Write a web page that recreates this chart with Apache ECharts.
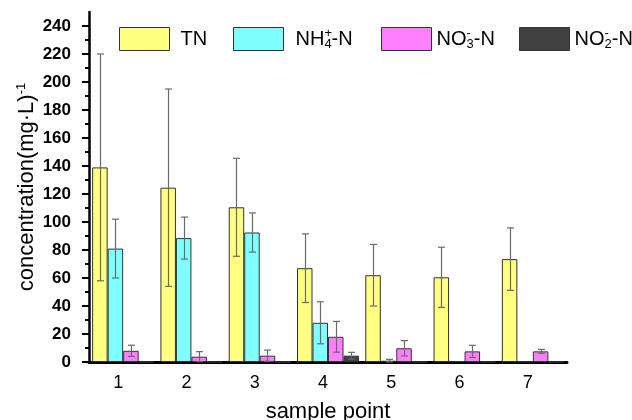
<!DOCTYPE html>
<html>
<head>
<meta charset="utf-8">
<script src="https://cdn.jsdelivr.net/npm/echarts@6/dist/echarts.min.js"></script>
<style>
html, body { margin: 0; padding: 0; background: #fff; }
#chart { width: 632px; height: 420px; }
</style>
</head>
<body>
<div id="chart"></div>
<script>
// sample points on the x axis
const samplePoints = ['1', '2', '3', '4', '5', '6', '7']
const yTicks = [0, 20, 40, 60, 80, 100, 120, 140, 160, 180, 200, 220, 240]

// mean concentration (mg/L) and error (sd) per sample point
const tnMean = [139, 124.5, 110.5, 67, 62, 60.5, 73.5]
const tnErr = [81, 70.5, 35, 24.5, 22, 21.5, 22.3]
const nh4Mean = [81, 88.5, 92.5, 28, 0.9, 0.5, 0.3]
const nh4Err = [21, 15, 14, 15, 1, 0, 0]
const no3Mean = [8, 3.8, 4.5, 18, 9.8, 7.6, 7.6]
const no3Err = [4, 3.6, 4, 11, 5.5, 4.3, 1.4]
const no2Mean = [0, 0, 0, 4.5, 0, 0, 0]
const no2Err = [0, 0, 0, 2.4, 0, 0, 0]

const FONT = 'Liberation Sans'
const BAR_W = 15.5

const seriesList = [
    { name: 'TN', mean: tnMean, err: tnErr, color: '#ffff80' },
    { name: 'NH4', mean: nh4Mean, err: nh4Err, color: '#80ffff' },
    { name: 'NO3', mean: no3Mean, err: no3Err, color: '#ff80ff' },
    { name: 'NO2', mean: no2Mean, err: no2Err, color: '#404040' }
]

// legend labels with sub/superscripts
const legendLabels = {
    TN: '{n|TN}',
    NH4: '{n|NH}{sup|+}{sub|4}{n|-N}',
    NO3: '{n|NO}{sup|-}{sub|3}{n|-N}',
    NO2: '{n|NO}{sup|-}{sub|2}{n|-N}'
}
const legendLeft = { TN: 119, NH4: 233, NO3: 381, NO2: 519 }
const legendTextPad = { TN: 6, NH4: 7, NO3: 0, NO2: 0 }

const richText = {
    n: { fontSize: 20, fontFamily: FONT, color: '#000', lineHeight: 24 },
    sup: { fontSize: 13, fontFamily: FONT, color: '#000', lineHeight: 8, verticalAlign: 'top', width: 0, align: 'left' },
    sub: { fontSize: 13, fontFamily: FONT, color: '#000', lineHeight: 8, verticalAlign: 'bottom' }
}

const chart = echarts.init(document.getElementById('chart'))

const barSeries = seriesList.map(s => ({
    name: s.name,
    type: 'bar',
    data: s.mean,
    barWidth: BAR_W,
    barGap: '0%',
    itemStyle: { color: s.color, borderColor: '#333', borderWidth: 1 },
    animation: false
}))

const errorSeries = seriesList.map((s, i) => ({
    type: 'custom',
    z: 5,
    silent: true,
    animation: false,
    data: s.mean.map((m, k) => [k, Math.max(0, m - s.err[k]), m + s.err[k], s.err[k]]),
    renderItem: (params, api) => {
        if (api.value(3) <= 0) return null
        const cat = api.value(0)
        const x = Math.round(api.coord([cat, 0])[0] + (i - 1.5) * BAR_W) + 0.5
        const yLo = api.coord([cat, api.value(1)])[1]
        const yHi = api.coord([cat, api.value(2)])[1]
        const style = { stroke: '#6a6a6a', lineWidth: 1.2 }
        return {
            type: 'group',
            children: [
                { type: 'line', shape: { x1: x, y1: yLo, x2: x, y2: yHi }, style },
                { type: 'line', shape: { x1: x - 3.5, y1: yHi, x2: x + 3.5, y2: yHi }, style },
                { type: 'line', shape: { x1: x - 3.5, y1: yLo, x2: x + 3.5, y2: yLo }, style }
            ]
        }
    }
}))

const legends = seriesList.map(s => ({
    data: [s.name],
    left: legendLeft[s.name],
    top: 27,
    padding: 0,
    itemWidth: 50,
    itemHeight: 23,
    icon: 'rect',
    itemStyle: { borderColor: '#333', borderWidth: 1 },
    formatter: name => legendLabels[name],
    textStyle: { padding: [0, 0, 0, legendTextPad[s.name]], rich: richText }
}))

chart.setOption({
    backgroundColor: '#fff',
    animation: false,
    legend: legends,
    grid: { left: 89, right: 65, top: 12, bottom: 58, outerBoundsMode: 'none' },
    xAxis: {
        type: 'category',
        data: samplePoints,
        name: 'sample point',
        nameLocation: 'middle',
        nameGap: 39,
        nameMoveOverlap: false,
        nameTextStyle: { fontSize: 22, fontFamily: FONT, color: '#000' },
        axisLine: { lineStyle: { color: '#000', width: 3 } },
        axisTick: { show: false },
        axisLabel: { fontSize: 18, fontFamily: FONT, color: '#000', margin: 12, padding: [0, 10, 0, 0] }
    },
    yAxis: {
        type: 'value',
        min: 0,
        max: 250,
        interval: 20,
        name: '{n|concentration(mg·L)}{s|-1}',
        nameLocation: 'middle',
        nameGap: 50,
        nameMoveOverlap: false,
        nameTextStyle: {
            rich: {
                n: { fontSize: 22, fontFamily: FONT, color: '#000', lineHeight: 24 },
                s: { fontSize: 13, fontFamily: FONT, color: '#000', lineHeight: 10, verticalAlign: 'top' }
            }
        },
        splitLine: { show: false },
        axisLine: { show: true, lineStyle: { color: '#000', width: 2.5 } },
        axisTick: { show: true, length: 7, lineStyle: { color: '#000', width: 2 }, customValues: yTicks },
        minorTick: { show: true, splitNumber: 2, length: 4, lineStyle: { color: '#000', width: 2 } },
        axisLabel: {
            fontSize: 17,
            fontWeight: 'bold',
            fontFamily: FONT,
            color: '#000',
            margin: 18,
            customValues: yTicks
        }
    },
    series: [...barSeries, ...errorSeries]
})
</script>
</body>
</html>
